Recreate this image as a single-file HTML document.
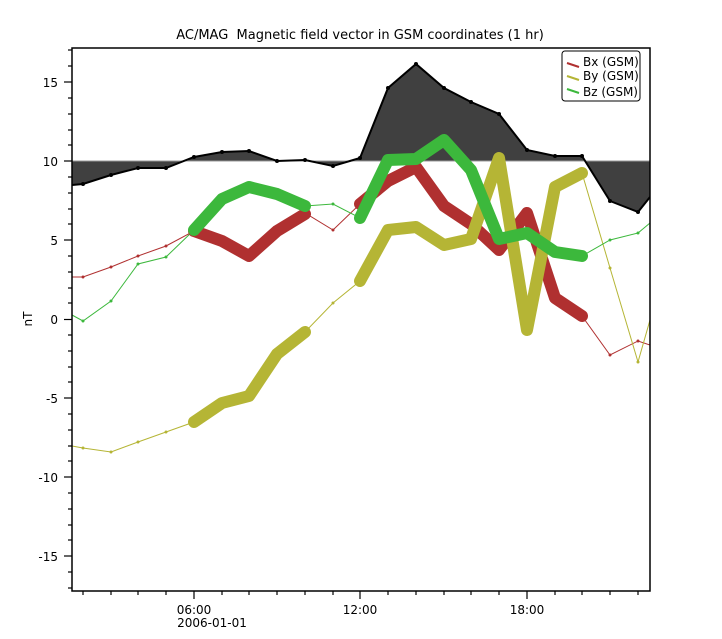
<!DOCTYPE html>
<html><head><style>body{margin:0;background:#fff}svg{display:block}</style></head><body>
<svg width="722" height="639" viewBox="0 0 722 639" xmlns="http://www.w3.org/2000/svg" font-family="'DejaVu Sans','Liberation Sans',sans-serif">
<defs>
<clipPath id="c"><rect x="72" y="48" width="578" height="543"/></clipPath>
<marker id="mr" markerWidth="4" markerHeight="4" refX="2" refY="2" markerUnits="userSpaceOnUse"><circle cx="2" cy="2" r="1.5" fill="#b03030"/></marker>
<marker id="my" markerWidth="4" markerHeight="4" refX="2" refY="2" markerUnits="userSpaceOnUse"><circle cx="2" cy="2" r="1.5" fill="#b5b535"/></marker>
<marker id="mg" markerWidth="4" markerHeight="4" refX="2" refY="2" markerUnits="userSpaceOnUse"><circle cx="2" cy="2" r="1.5" fill="#3cb83c"/></marker>
<marker id="mk" markerWidth="5" markerHeight="5" refX="2.5" refY="2.5" markerUnits="userSpaceOnUse"><circle cx="2.5" cy="2.5" r="2" fill="#000"/></marker>
</defs>
<rect width="722" height="639" fill="#fff"/>
<text x="360" y="39" font-size="13" text-anchor="middle" fill="#000">AC/MAG&#160; Magnetic field vector in GSM coordinates (1 hr)</text>
<g clip-path="url(#c)">
<polygon fill="#404040" points="72,161 72,185 83,184 111,175 138,168 166,168 194,157 222,152 249,151 277,161 305,160 333,166 360,158 388,88 416,64 444,88 471,102 499,114 527,150 555,156 582,156 610,201 638,212 650,197 650,161"/>
<line x1="72" y1="161" x2="650" y2="161" stroke="#999" stroke-width="1"/>
<polyline fill="none" stroke="#000" stroke-width="2" marker-mid="url(#mk)" points="72,185 83,184 111,175 138,168 166,168 194,157 222,152 249,151 277,161 305,160 333,166 360,158 388,88 416,64 444,88 471,102 499,114 527,150 555,156 582,156 610,201 638,212 650,197"/>
<g fill="none" stroke-width="1">
<polyline stroke="#b03030" marker-mid="url(#mr)" points="72,277 83,277 111,267 138,256 166,246 194,231 222,241 249,256 277,231 305,213 333,230 360,204 388,181 416,167 444,206 471,224 499,250 527,213 555,298 582,316 610,355 638,341 650,345"/>
<polyline stroke="#b5b535" marker-mid="url(#my)" points="72,446 83,448 111,452 138,442 166,432 194,422 222,403 249,396 277,354 305,332 333,303 360,281 388,230 416,227 444,245 471,239 499,158 527,330 555,187 582,173 610,268 638,362 650,320"/>
<polyline stroke="#3cb83c" marker-mid="url(#mg)" points="72,315 83,321 111,301 138,264 166,257 194,230 222,199 249,187 277,194 305,206 333,204 360,218 388,160 416,159 444,140 471,170 499,239 527,233 555,252 582,256 610,240 638,233 650,223"/>
</g>
<g fill="none" stroke-width="12" stroke-linecap="round" stroke-linejoin="round">
<polyline stroke="#b03030" points="194,231 222,241 249,256 277,231 305,214"/>
<polyline stroke="#b03030" points="360,204 388,181 416,167 444,206 471,224 499,250 527,213 555,298 582,316"/>
<polyline stroke="#b5b535" points="194,422 222,403 249,396 277,354 305,332"/>
<polyline stroke="#b5b535" points="360,281 388,230 416,227 444,245 471,239 499,158 527,330 555,187 582,173"/>
<polyline stroke="#3cb83c" points="194,230 222,199 249,187 277,194 305,206"/>
<polyline stroke="#3cb83c" points="360,218 388,160 416,159 444,140 471,170 499,239 527,233 555,252 582,256"/>
</g>
</g>
<rect x="72" y="48" width="578" height="543" fill="none" stroke="#000" stroke-width="1.5"/>
<g stroke="#000" stroke-width="1.2">
<line x1="64" y1="82" x2="72" y2="82"/><line x1="64" y1="161" x2="72" y2="161"/><line x1="64" y1="240" x2="72" y2="240"/><line x1="64" y1="319.5" x2="72" y2="319.5"/><line x1="64" y1="398" x2="72" y2="398"/><line x1="64" y1="477" x2="72" y2="477"/><line x1="64" y1="556" x2="72" y2="556"/>
<line x1="68" y1="50" x2="72" y2="50"/><line x1="68" y1="66" x2="72" y2="66"/><line x1="68" y1="98" x2="72" y2="98"/><line x1="68" y1="114" x2="72" y2="114"/><line x1="68" y1="130" x2="72" y2="130"/><line x1="68" y1="145" x2="72" y2="145"/>
<line x1="68" y1="177" x2="72" y2="177"/><line x1="68" y1="193" x2="72" y2="193"/><line x1="68" y1="209" x2="72" y2="209"/><line x1="68" y1="224" x2="72" y2="224"/>
<line x1="68" y1="256" x2="72" y2="256"/><line x1="68" y1="272" x2="72" y2="272"/><line x1="68" y1="288" x2="72" y2="288"/><line x1="68" y1="303" x2="72" y2="303"/>
<line x1="68" y1="335" x2="72" y2="335"/><line x1="68" y1="351" x2="72" y2="351"/><line x1="68" y1="367" x2="72" y2="367"/><line x1="68" y1="382" x2="72" y2="382"/>
<line x1="68" y1="414" x2="72" y2="414"/><line x1="68" y1="430" x2="72" y2="430"/><line x1="68" y1="446" x2="72" y2="446"/><line x1="68" y1="461" x2="72" y2="461"/>
<line x1="68" y1="493" x2="72" y2="493"/><line x1="68" y1="509" x2="72" y2="509"/><line x1="68" y1="525" x2="72" y2="525"/><line x1="68" y1="540" x2="72" y2="540"/>
<line x1="68" y1="572" x2="72" y2="572"/><line x1="68" y1="588" x2="72" y2="588"/>
<line x1="194" y1="591" x2="194" y2="599"/><line x1="360" y1="591" x2="360" y2="599"/><line x1="527" y1="591" x2="527" y2="599"/>
<line x1="83" y1="591" x2="83" y2="595"/><line x1="111" y1="591" x2="111" y2="595"/><line x1="138" y1="591" x2="138" y2="595"/><line x1="166" y1="591" x2="166" y2="595"/><line x1="222" y1="591" x2="222" y2="595"/><line x1="249" y1="591" x2="249" y2="595"/><line x1="277" y1="591" x2="277" y2="595"/><line x1="305" y1="591" x2="305" y2="595"/><line x1="333" y1="591" x2="333" y2="595"/><line x1="388" y1="591" x2="388" y2="595"/><line x1="416" y1="591" x2="416" y2="595"/><line x1="444" y1="591" x2="444" y2="595"/><line x1="471" y1="591" x2="471" y2="595"/><line x1="499" y1="591" x2="499" y2="595"/><line x1="555" y1="591" x2="555" y2="595"/><line x1="582" y1="591" x2="582" y2="595"/><line x1="610" y1="591" x2="610" y2="595"/><line x1="638" y1="591" x2="638" y2="595"/>
</g>
<g font-size="12" fill="#000" text-anchor="end">
<text x="58" y="87">15</text><text x="58" y="166">10</text><text x="58" y="245">5</text><text x="58" y="324">0</text><text x="58" y="403">-5</text><text x="58" y="482">-10</text><text x="58" y="561">-15</text>
</g>
<g font-size="12" fill="#000" text-anchor="middle">
<text x="194" y="614">06:00</text><text x="212" y="627">2006-01-01</text><text x="360" y="614">12:00</text><text x="527" y="614">18:00</text>
</g>
<text transform="translate(32,319) rotate(-90)" font-size="12" text-anchor="middle">nT</text>
<rect x="562" y="51" width="78" height="50" rx="3" fill="#fff" stroke="#000" stroke-width="1"/>
<g stroke-width="2"><line x1="567" y1="63" x2="579" y2="67" stroke="#b03030"/><line x1="567" y1="76" x2="579" y2="80" stroke="#b5b535"/><line x1="567" y1="89" x2="579" y2="93" stroke="#3cb83c"/></g>
<g font-size="12" fill="#000"><text x="583" y="66">Bx (GSM)</text><text x="583" y="80">By (GSM)</text><text x="583" y="96">Bz (GSM)</text></g>
</svg>
</body></html>
